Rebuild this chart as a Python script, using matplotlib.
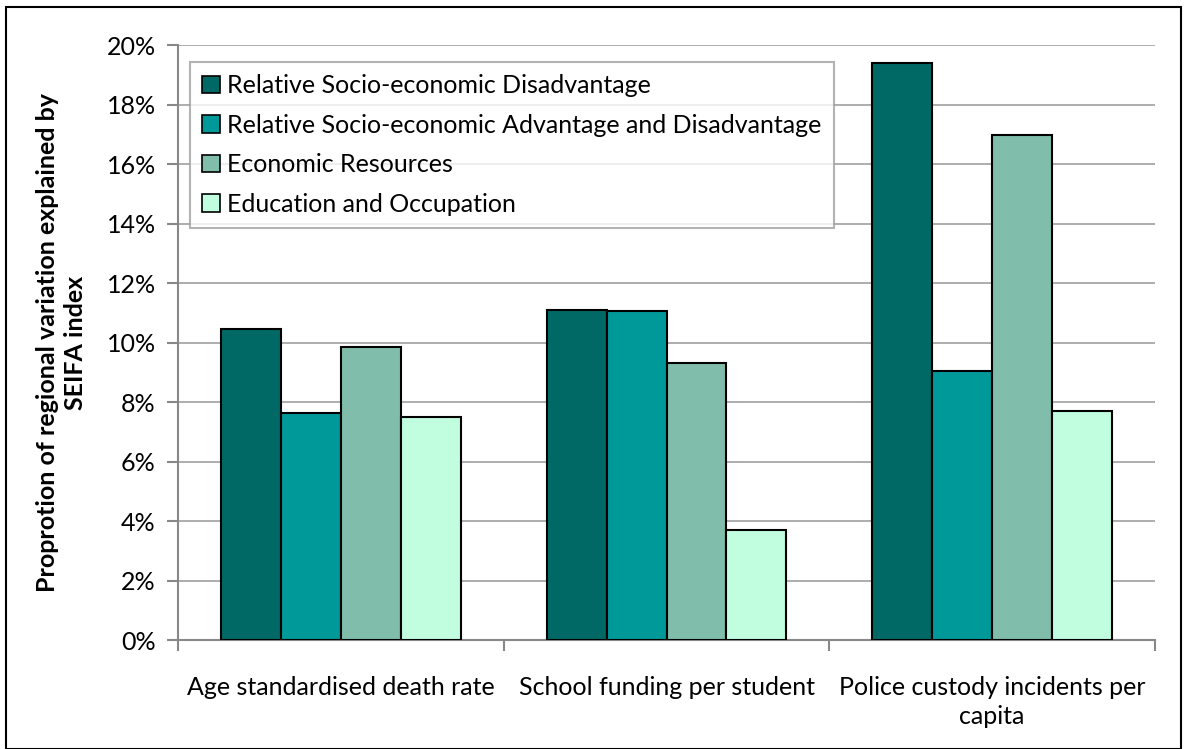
import matplotlib
matplotlib.use('Agg')
from matplotlib import pyplot as plt
from matplotlib.patches import Rectangle
import numpy as np

categories = ['Age standardised death rate',
              'School funding per student',
              'Police custody incidents per\ncapita']
series_names = ['Relative Socio-economic Disadvantage',
                'Relative Socio-economic Advantage and Disadvantage',
                'Economic Resources',
                'Education and Occupation']
disadvantage = [10.45, 11.11, 19.41]
adv_disadv = [7.62, 11.05, 9.05]
econ_resources = [9.84, 9.31, 16.98]
edu_occupation = [7.50, 3.69, 7.70]
colors = ['#006966', '#009999', '#80BDAA', '#C1FDDF']

plt.rcParams['font.family'] = ['Lato', 'DejaVu Sans']

fig = plt.figure(figsize=(11.87, 7.49), dpi=100)
ax = fig.add_axes([0.15, 0.1455, 0.823, 0.794])

values = [disadvantage, adv_disadv, econ_resources, edu_occupation]
x = np.arange(len(categories))
w = 0.184
for i, (vals, name) in enumerate(zip(values, series_names)):
    ax.bar(x + (i - 1.5) * w, vals, w, color=colors[i], edgecolor='black',
           linewidth=1.5, label=name, zorder=3)

ax.set_xlim(-0.5, 2.5)
ax.set_ylim(0, 20)
ax.set_yticks(np.arange(0, 21, 2))
ax.set_yticklabels(['%d%%' % v for v in range(0, 21, 2)], fontsize=18)
ax.yaxis.grid(True, color='#a0a0a0', linewidth=1.2, zorder=0)

ax.set_xticks([-0.5, 0.5, 1.5, 2.5])
ax.set_xticklabels([])
ax.set_xticks(x, minor=True)
ax.set_xticklabels(categories, minor=True, fontsize=18, linespacing=1.3)
ax.tick_params(axis='x', which='minor', length=0, pad=26)
ax.tick_params(axis='x', which='major', length=8, color='#888888', width=1.5)
ax.tick_params(axis='y', length=8, color='#888888', width=1.5, pad=8)

for s in ['top', 'right']:
    ax.spines[s].set_visible(False)
for s in ['left', 'bottom']:
    ax.spines[s].set_color('#888888')
    ax.spines[s].set_linewidth(1.5)

ax.set_ylabel('Proprotion of regional variation explained by\nSEIFA index',
              fontsize=18, fontweight='bold', labelpad=14, linespacing=1.25)

leg = ax.legend(loc='upper left', bbox_to_anchor=(0.012, 0.972), fontsize=18,
                frameon=True, fancybox=False, edgecolor='#a0a0a0',
                handlelength=0.7, handleheight=0.7, handletextpad=0.3,
                labelspacing=0.66, borderpad=0.5, borderaxespad=0)
leg.get_frame().set_linewidth(1.5)
leg.set_zorder(5)
for h in leg.legend_handles:
    h.set_linewidth(1.2)

fig.patches.append(Rectangle((0.005, 0.0), 0.99, 0.991, transform=fig.transFigure,
                             fill=False, edgecolor='black', linewidth=1.5))

fig.savefig('out.png', dpi=100)
